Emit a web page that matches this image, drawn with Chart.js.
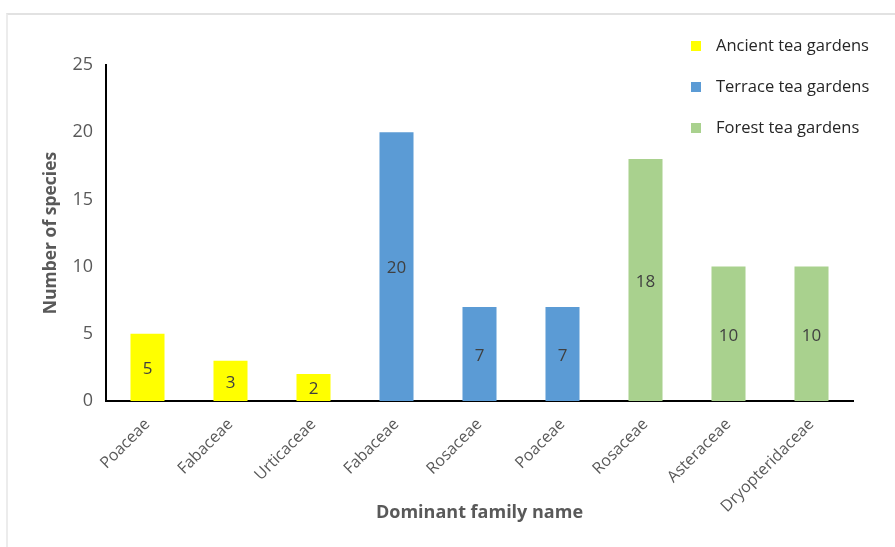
<!DOCTYPE html>
<html>
<head>
<meta charset="utf-8">
<script src="https://cdn.jsdelivr.net/npm/chart.js@4.4.0/dist/chart.umd.min.js"></script>
<style>
  html, body { margin: 0; padding: 0; background: #fff; }
  #frame { position: absolute; left: 6px; top: 13px; width: 889px; height: 534px;
           border-top: 2px solid #e2e2e2; border-left: 2px solid #ececec; box-sizing: border-box; }
  #wrap { position: absolute; left: 0; top: 0; width: 895px; height: 547px; }
</style>
</head>
<body>
<div id="frame"></div>
<div id="wrap"><canvas id="chart" width="895" height="547"></canvas></div>
<script>
const families = ['Poaceae', 'Fabaceae', 'Urticaceae', 'Fabaceae', 'Rosaceae', 'Poaceae', 'Rosaceae', 'Asteraceae', 'Dryopteridaceae'];
const ancient = [5, 3, 2, null, null, null, null, null, null];
const terrace = [null, null, null, 20, 7, 7, null, null, null];
const forest = [null, null, null, null, null, null, 18, 10, 10];
const yTicks = [0, 5, 10, 15, 20, 25];

const font = "'Open Sans', 'Noto Sans', sans-serif";

// numbers in the middle of every bar
const barLabels = {
    id: 'barLabels',
    afterDatasetsDraw(chart) {
        const ctx = chart.ctx;
        ctx.save();
        ctx.fillStyle = '#404040';
        ctx.font = '17px ' + font;
        ctx.textAlign = 'center';
        ctx.textBaseline = 'middle';
        chart.data.datasets.forEach((ds, i) => {
            chart.getDatasetMeta(i).data.forEach((bar, j) => {
                if (ds.data[j] == null) return;
                ctx.fillText(ds.data[j], bar.x, (bar.y + bar.base) / 2 + 2);
            });
        });
        ctx.restore();
    }
};

// legend sitting inside the plot, top right
const sideLegend = {
    id: 'sideLegend',
    afterDraw(chart) {
        const ctx = chart.ctx;
        ctx.save();
        ctx.font = '16.5px ' + font;
        ctx.textBaseline = 'middle';
        chart.data.datasets.forEach((ds, i) => {
            const y = 46 + i * 41;
            ctx.fillStyle = ds.backgroundColor;
            ctx.fillRect(691, y - 5, 10, 10);
            ctx.fillStyle = '#262626';
            ctx.fillText(ds.label, 716, y);
        });
        ctx.restore();
    }
};

new Chart(document.getElementById('chart'), {
    type: 'bar',
    data: {
        labels: families,
        datasets: [
            { label: 'Ancient tea gardens', data: ancient, backgroundColor: '#ffff00' },
            { label: 'Terrace tea gardens', data: terrace, backgroundColor: '#5b9bd5' },
            { label: 'Forest tea gardens', data: forest, backgroundColor: '#a9d18e' }
        ]
    },
    options: {
        responsive: false,
        animation: false,
        grouped: false,
        barPercentage: 0.41,
        categoryPercentage: 1,
        layout: { padding: { left: 0, top: 65, right: 42, bottom: 0 } },
        plugins: {
            legend: { display: false },
            tooltip: { enabled: false }
        },
        scales: {
            x: {
                grid: { display: false, drawTicks: false },
                border: { color: '#000', width: 2 },
                ticks: {
                    color: '#595959',
                    font: { family: font, size: 16 },
                    minRotation: 45,
                    maxRotation: 45,
                    padding: 14,
                    autoSkip: false
                },
                title: {
                    display: true,
                    text: 'Dominant family name',
                    color: '#595959',
                    font: { family: font, size: 18, weight: 'bold' },
                    padding: { bottom: 23 }
                },
                afterFit(scale) { scale.height = 146; }
            },
            y: {
                min: 0,
                max: 25,
                afterBuildTicks(scale) { scale.ticks = yTicks.map(v => ({ value: v })); },
                grid: { display: false, drawTicks: false },
                border: { color: '#000', width: 2 },
                ticks: {
                    color: '#595959',
                    font: { family: font, size: 18 },
                    padding: 13
                },
                title: {
                    display: true,
                    text: 'Number of species',
                    color: '#595959',
                    font: { family: font, size: 17.5, weight: 'bold' },
                    padding: { top: 41 }
                },
                afterFit(scale) { scale.width = 106; }
            }
        }
    },
    plugins: [barLabels, sideLegend]
});
</script>
</body>
</html>
